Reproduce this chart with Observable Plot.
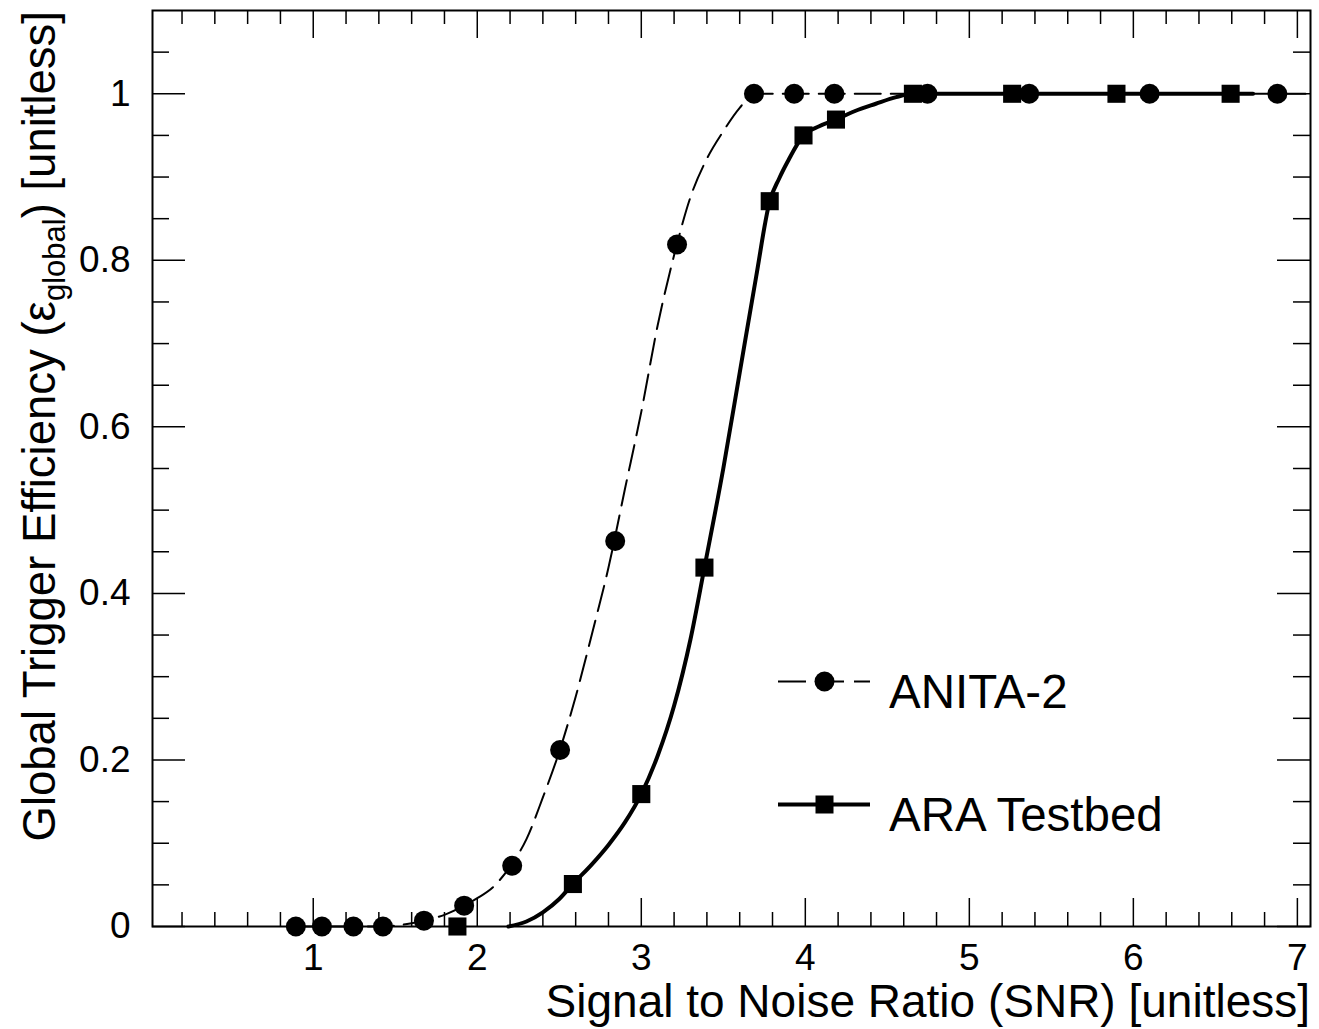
<!DOCTYPE html>
<html>
<head>
<meta charset="utf-8">
<script src="https://cdn.jsdelivr.net/npm/d3@7"></script>
<script src="https://cdn.jsdelivr.net/npm/@observablehq/plot@0.6"></script>
<style>
  html, body { margin: 0; padding: 0; background: #fff; }
  #chart { width: 1319px; height: 1029px; }
</style>
</head>
<body>
<div id="chart"></div>
<script>
// ---- data ----
const anitaX = [0.894, 1.053, 1.245, 1.425, 1.675, 1.92, 2.213, 2.505, 2.841, 3.218, 3.687, 3.932, 4.177, 4.745, 5.365, 6.099, 6.878];
const anitaY = [0, 0, 0, 0, 0.007, 0.025, 0.073, 0.212, 0.463, 0.819, 1, 1, 1, 1, 1, 1, 1];

const araX = [1.879, 2.583, 3.0, 3.385, 3.783, 3.989, 4.187, 4.656, 5.261, 5.897, 6.593];
const araY = [0, 0.051, 0.159, 0.431, 0.871, 0.950, 0.969, 1, 1, 1, 1];

// fitted curves
const anitaFitX = [0.894, 1.053, 1.245, 1.425, 1.5, 1.6, 1.7, 1.8, 1.92, 2.0, 2.1, 2.2, 2.3, 2.4, 2.5, 2.6, 2.7, 2.8, 2.9, 3.0, 3.1, 3.2, 3.3, 3.4, 3.5, 3.6, 3.687, 7.05];
const anitaFitY = [0, 0, 0, 0, 0.001, 0.004, 0.008, 0.014, 0.025, 0.034, 0.048, 0.072, 0.105, 0.155, 0.21, 0.276, 0.352, 0.431, 0.525, 0.618, 0.722, 0.806, 0.876, 0.922, 0.955, 0.983, 1.0, 1.0];

const araFitX = [2.19, 2.3, 2.4, 2.5, 2.583, 2.7, 2.8, 2.9, 3.0, 3.1, 3.2, 3.3, 3.385, 3.5, 3.6, 3.7, 3.783, 3.84, 3.891, 3.989, 4.085, 4.187, 4.3, 4.43, 4.554, 4.656, 6.73];
const araFitY = [0, 0.006, 0.017, 0.033, 0.051, 0.075, 0.098, 0.125, 0.159, 0.205, 0.265, 0.345, 0.431, 0.55, 0.665, 0.78, 0.871, 0.898, 0.918, 0.950, 0.961, 0.969, 0.979, 0.988, 0.996, 1.0, 1.0];

const xMajorTicks = [1, 2, 3, 4, 5, 6, 7];
const yMajorTicks = [0, 0.2, 0.4, 0.6, 0.8, 1];
const seriesNames = ["ANITA-2", "ARA Testbed"];
const xTitle = "Signal to Noise Ratio (SNR) [unitless]";
const yTitleParts = ["Global Trigger Efficiency (ε", "global", ") [unitless]"];

// ---- build tables ----
const zip = (xs, ys) => xs.map((x, i) => ({x, y: ys[i]}));
const anitaPts = zip(anitaX, anitaY);
const araPts = zip(araX, araY);
const anitaFit = zip(anitaFitX, anitaFitY);
const araFit = zip(araFitX, araFitY);

const xMinorTicks = d3.range(1, 36).map(i => +(i * 0.2).toFixed(2)).filter(v => !xMajorTicks.includes(v) && v < 7.08);
const yMinorTicks = d3.range(1, 22).map(i => +(i * 0.05).toFixed(2)).filter(v => !yMajorTicks.some(t => Math.abs(t - v) < 1e-9) && v < 1.099);

const W = 1319, H = 1029;
const mL = 152, mR = 9, mT = 10, mB = 103;
const pw = W - mL - mR, ph = H - mT - mB;

const font = "'Liberation Sans', Arial, Helvetica, sans-serif";

const chart = Plot.plot({
  width: W, height: H,
  marginLeft: mL, marginRight: mR, marginTop: mT, marginBottom: mB,
  style: {fontFamily: font, fontSize: "37px", background: "#fff", color: "#000"},
  x: {domain: [0.02, 7.08]},
  y: {domain: [0, 1.1]},
  marks: [
    // ticks (inside, on all four sides)
    Plot.tickX(xMajorTicks, {x: d => d, insetTop: ph - 28, stroke: "#000", strokeWidth: 1.5}),
    Plot.tickX(xMinorTicks, {x: d => d, insetTop: ph - 14, stroke: "#000", strokeWidth: 1.5}),
    Plot.tickX(xMajorTicks, {x: d => d, insetBottom: ph - 28, stroke: "#000", strokeWidth: 1.5}),
    Plot.tickX(xMinorTicks, {x: d => d, insetBottom: ph - 14, stroke: "#000", strokeWidth: 1.5}),
    Plot.tickY(yMajorTicks, {y: d => d, insetRight: pw - 33, stroke: "#000", strokeWidth: 1.5}),
    Plot.tickY(yMinorTicks, {y: d => d, insetRight: pw - 17, stroke: "#000", strokeWidth: 1.5}),
    Plot.tickY(yMajorTicks, {y: d => d, insetLeft: pw - 33, stroke: "#000", strokeWidth: 1.5}),
    Plot.tickY(yMinorTicks, {y: d => d, insetLeft: pw - 17, stroke: "#000", strokeWidth: 1.5}),
    // fit curves
    Plot.line(anitaFit, {x: "x", y: "y", stroke: "#000", strokeWidth: 2, strokeDasharray: "26,10", curve: "monotone-x"}),
    Plot.line(araFit, {x: "x", y: "y", stroke: "#000", strokeWidth: 4, curve: "monotone-x"}),
    // data points
    Plot.dot(anitaPts, {x: "x", y: "y", r: 10, fill: "#000", stroke: "none", symbol: "circle"}),
    Plot.dot(araPts, {x: "x", y: "y", r: 10.2, fill: "#000", stroke: "none", symbol: "square"}),
    // axes labels
    Plot.axisX({ticks: xMajorTicks, tickSize: 0, tickPadding: 17, label: null, fontSize: 37, tickFormat: d => String(d)}),
    Plot.axisY({ticks: yMajorTicks, tickSize: 0, tickPadding: 22, label: null, fontSize: 37, tickFormat: d => String(d)}),
    Plot.frame({stroke: "#000", strokeWidth: 2})
  ]
});

document.getElementById("chart").appendChild(chart);

// ---- titles and legend (added to the SVG) ----
const svg = d3.select(chart);

svg.append("text")
  .attr("x", W - mR)
  .attr("y", 1017)
  .attr("text-anchor", "end")
  .attr("font-family", font)
  .attr("font-size", 46)
  .attr("fill", "#000")
  .text(xTitle);

const yt = svg.append("text")
  .attr("transform", `translate(55,${mT + 1}) rotate(-90)`)
  .attr("text-anchor", "end")
  .attr("font-family", font)
  .attr("font-size", 45.5)
  .attr("fill", "#000");
yt.append("tspan").text(yTitleParts[0]);
yt.append("tspan").attr("font-size", 31).attr("dy", 10).text(yTitleParts[1]);
yt.append("tspan").attr("dy", -10).text(yTitleParts[2]);

// legend
const leg = svg.append("g").attr("text-anchor", "start");
const legendRows = [
  {name: seriesNames[0], y: 681.5, dash: "28,10", sw: 2, sym: "circle"},
  {name: seriesNames[1], y: 804.5, dash: null, sw: 4, sym: "square"}
];
legendRows.forEach(r => {
  const ln = leg.append("line").attr("x1", 778).attr("x2", 870).attr("y1", r.y).attr("y2", r.y)
    .attr("stroke", "#000").attr("stroke-width", r.sw);
  if (r.dash) ln.attr("stroke-dasharray", r.dash);
  if (r.sym === "circle") {
    leg.append("circle").attr("cx", 824.5).attr("cy", r.y).attr("r", 10).attr("fill", "#000");
  } else {
    leg.append("rect").attr("x", 815.5).attr("y", r.y - 9).attr("width", 18).attr("height", 18).attr("fill", "#000");
  }
  leg.append("text").attr("x", 889).attr("y", r.y + 26)
    .attr("text-anchor", "start")
    .attr("font-family", font).attr("font-size", 47.5).attr("fill", "#000")
    .text(r.name);
});
</script>
</body>
</html>
